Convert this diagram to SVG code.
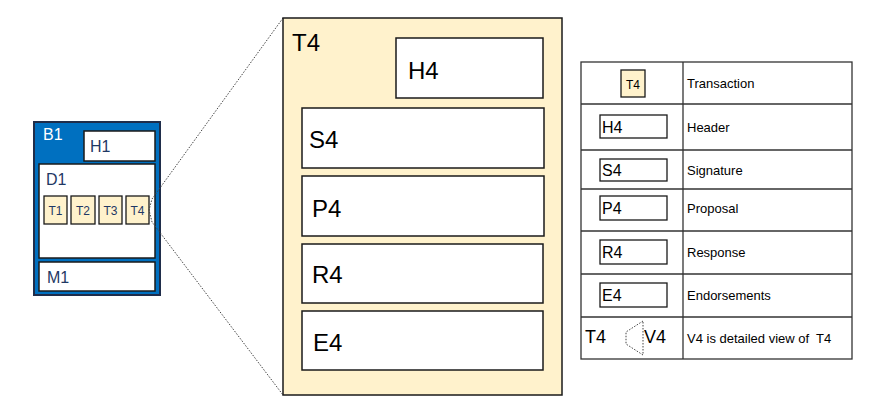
<svg xmlns="http://www.w3.org/2000/svg" width="885" height="410" viewBox="0 0 885 410">
<style>
text{font-family:"Liberation Sans",Arial,sans-serif}
.blk{fill:#0070C0;stroke:#1F2D4A;stroke-width:2}
.in{fill:#fff;stroke:#1a1a1a;stroke-width:1.5}
.tx{fill:#FFF2CC;stroke:#1a1a1a;stroke-width:1.3}
.nv{fill:#1F3864;font-size:16px}
.ts{fill:#1F3864;font-size:12px;text-anchor:middle}
.big{fill:#000;font-size:24px}
.wb{fill:#fff;stroke:#1a1a1a;stroke-width:1.5}
.lg{fill:#fff;stroke:#1a1a1a;stroke-width:1.3}
.lt{fill:#000;font-size:13px}
.ls{fill:#000;font-size:16px}
.dot{fill:none;stroke:#444;stroke-width:1;stroke-dasharray:1.5 1.5}
.grid{stroke:#333;stroke-width:1.3;fill:none}
</style>
<rect width="885" height="410" fill="#fff"/>

<g id="block-B1">
  <rect class="blk" x="34" y="122" width="126" height="173"/>
  <text x="43" y="140" fill="#fff" font-size="16">B1</text>
</g>
<g id="H1">
  <rect class="in" x="84" y="131" width="71" height="30"/>
  <text class="nv" x="90" y="152">H1</text>
</g>
<g id="D1">
  <rect class="in" x="39" y="164" width="116" height="94"/>
  <text class="nv" x="46" y="185">D1</text>
</g>
<g id="T1"><rect class="tx" x="44" y="196" width="23" height="28"/><text class="ts" x="55.5" y="215">T1</text></g>
<g id="T2"><rect class="tx" x="71" y="196" width="24" height="28"/><text class="ts" x="83" y="215">T2</text></g>
<g id="T3"><rect class="tx" x="99" y="196" width="23" height="28"/><text class="ts" x="110.5" y="215">T3</text></g>
<g id="T4"><rect class="tx" x="126" y="196" width="23" height="28"/><text class="ts" x="137.5" y="215">T4</text></g>
<g id="M1">
  <rect class="in" x="39" y="262" width="116" height="29"/>
  <text class="nv" x="47" y="283">M1</text>
</g>

<g id="connectors">
  <path class="dot" d="M283,18 L152,199 L149,210 L152,222 L283,395"/>
</g>

<g id="T4-detail">
  <rect x="283" y="18" width="279" height="377" fill="#FFF2CC" stroke="#1a1a1a" stroke-width="1.5"/>
  <text class="big" x="292" y="51" font-size="26">T4</text>
</g>
<g id="H4"><rect class="wb" x="396" y="38" width="147" height="60"/><text class="big" x="408" y="79">H4</text></g>
<g id="S4"><rect class="wb" x="302" y="108" width="242" height="60"/><text class="big" x="309" y="148">S4</text></g>
<g id="P4"><rect class="wb" x="302" y="176" width="242" height="60"/><text class="big" x="312" y="217">P4</text></g>
<g id="R4"><rect class="wb" x="302" y="244" width="241" height="59"/><text class="big" x="312" y="283">R4</text></g>
<g id="E4"><rect class="wb" x="302" y="311" width="241" height="59"/><text class="big" x="313" y="351">E4</text></g>

<g id="legend">
  <rect class="grid" x="581" y="62" width="271" height="297"/>
  <line class="grid" x1="683" y1="62" x2="683" y2="359"/>
  <line class="grid" x1="581" y1="104" x2="852" y2="104"/>
  <line class="grid" x1="581" y1="150" x2="852" y2="150"/>
  <line class="grid" x1="581" y1="189" x2="852" y2="189"/>
  <line class="grid" x1="581" y1="231" x2="852" y2="231"/>
  <line class="grid" x1="581" y1="274" x2="852" y2="274"/>
  <line class="grid" x1="581" y1="317" x2="852" y2="317"/>

  <rect class="tx" x="621" y="70" width="24" height="27"/>
  <text x="633" y="89" font-size="12" text-anchor="middle" fill="#000">T4</text>
  <text class="lt" x="687" y="88">Transaction</text>

  <rect class="lg" x="600" y="115" width="67" height="23"/>
  <text class="ls" x="602" y="133">H4</text>
  <text class="lt" x="687" y="132">Header</text>

  <rect class="lg" x="600" y="159" width="67" height="22"/>
  <text class="ls" x="602" y="176">S4</text>
  <text class="lt" x="687" y="175">Signature</text>

  <rect class="lg" x="600" y="196" width="67" height="24"/>
  <text class="ls" x="602" y="214">P4</text>
  <text class="lt" x="687" y="213">Proposal</text>

  <rect class="lg" x="600" y="240" width="67" height="24"/>
  <text class="ls" x="602" y="258">R4</text>
  <text class="lt" x="687" y="257">Response</text>

  <rect class="lg" x="600" y="283" width="67" height="24"/>
  <text class="ls" x="602" y="301">E4</text>
  <text class="lt" x="687" y="300">Endorsements</text>

  <text x="585" y="343" font-size="18" fill="#000">T4</text>
  <path class="dot" d="M643,321 L626,332 L626,344 L643,355 Z"/>
  <text x="644" y="343" font-size="18" fill="#000">V4</text>
  <text class="lt" x="687" y="343" xml:space="preserve">V4 is detailed view of  T4</text>
</g>
</svg>
